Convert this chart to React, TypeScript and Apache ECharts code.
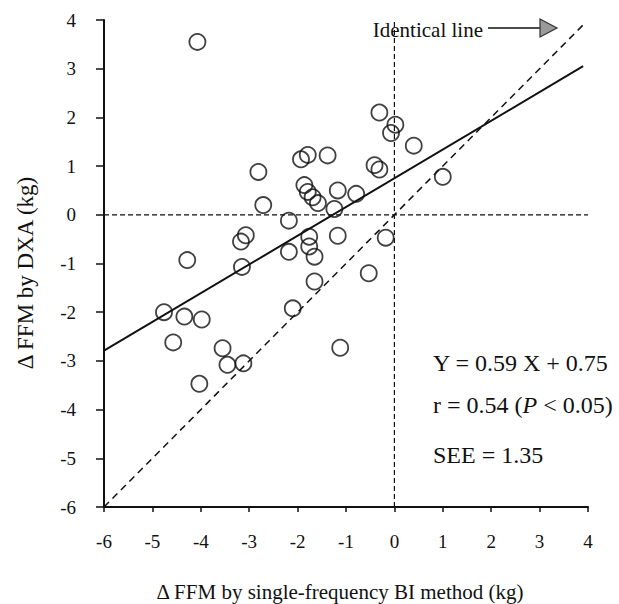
import React, { useEffect, useRef } from "react";
import * as echarts from "echarts";

// ΔFFM by single-frequency BI (x) vs ΔFFM by DXA (y), kg
const biChange: number[] = [
  -4.07, -0.31, 0.02, -0.07, 0.4, 1.0, -1.38, -0.41, -0.31, -1.17, -0.79,
  -1.24, -1.93, -1.79, -1.86, -1.79, -1.69, -1.58, -2.81, -2.71, -2.18,
  -3.07, -3.17, -2.18, -4.28, -3.15, -1.76, -1.76, -1.65, -1.17, -0.18,
  -0.53, -1.65, -2.1, -4.76, -4.34, -3.98, -4.57, -3.55, -3.45, -3.12,
  -4.03, -1.12,
];
const dxaChange: number[] = [
  3.55, 2.1, 1.85, 1.68, 1.42, 0.78, 1.22, 1.02, 0.93, 0.5, 0.43, 0.12,
  1.14, 1.23, 0.61, 0.47, 0.36, 0.24, 0.88, 0.2, -0.12, -0.42, -0.55,
  -0.76, -0.93, -1.07, -0.45, -0.65, -0.86, -0.43, -0.47, -1.2, -1.37,
  -1.92, -2.0, -2.09, -2.15, -2.62, -2.74, -3.08, -3.05, -3.47, -2.73,
];

// Regression Y = 0.59 X + 0.75
const slope = 0.59;
const intercept = 0.75;
const fitRange: number[] = [-6, 3.9];

// Identity line y = x
const identityRange: number[] = [-6, 3.9];

const xTicks: number[] = [-6, 4];
const yTicks: number[] = [-6, 4];

const FONT = "'Liberation Serif', 'Times New Roman', serif";
const INK = "#111";

export default function App() {
  const ref = useRef<HTMLDivElement>(null);

  useEffect(() => {
    if (!ref.current) return;
    const chart = echarts.init(ref.current, undefined, { renderer: "svg" });

    const points = biChange.map((x, i) => [x, dxaChange[i]]);
    const fitLine = fitRange.map((x) => [x, slope * x + intercept]);
    const identity = identityRange.map((x) => [x, x]);

    const dashed = (data: number[][], width: number, dash: number[]) => ({
      type: "line",
      data,
      symbol: "none",
      silent: true,
      lineStyle: { color: INK, width, type: dash },
      z: 2,
    });

    chart.setOption({
      animation: false,
      backgroundColor: "#fff",
      grid: { left: 104, right: 31, top: 20, bottom: 97 },
      xAxis: {
        type: "value",
        min: xTicks[0],
        max: xTicks[1],
        interval: 1,
        splitLine: { show: false },
        axisLine: { onZero: false, lineStyle: { color: INK, width: 2 } },
        axisTick: { show: true, inside: false, length: 5, lineStyle: { color: INK, width: 1.5 } },
        axisLabel: { color: INK, fontFamily: FONT, fontSize: 19, margin: 25 },
      },
      yAxis: {
        type: "value",
        min: yTicks[0],
        max: yTicks[1],
        interval: 1,
        splitLine: { show: false },
        axisLine: { onZero: false, lineStyle: { color: INK, width: 2 } },
        axisTick: { show: true, inside: false, length: 8, lineStyle: { color: INK, width: 1.5 } },
        axisLabel: { color: INK, fontFamily: FONT, fontSize: 19, margin: 28 },
      },
      series: [
        // zero reference lines
        dashed([[-6, 0], [4, 0]], 1.2, [5, 3]),
        dashed([[0, -6], [0, 4.05]], 1.2, [5, 3]),
        // identical line
        dashed(identity, 1.5, [7, 5]),
        {
          type: "line",
          data: fitLine,
          symbol: "none",
          silent: true,
          lineStyle: { color: INK, width: 2, type: "solid" },
          z: 3,
        },
        {
          type: "scatter",
          data: points,
          symbol: "circle",
          symbolSize: 16,
          itemStyle: { color: "rgba(0,0,0,0)", borderColor: INK, borderWidth: 1.8 },
          z: 4,
        },
      ],
      graphic: [
        {
          type: "text",
          x: 25,
          y: 273,
          rotation: Math.PI / 2,
          style: {
            text: "Δ FFM by DXA (kg)",
            fontFamily: FONT,
            fontSize: 23,
            fill: INK,
            align: "center",
            verticalAlign: "middle",
          },
        },
        {
          type: "text",
          x: 340,
          y: 592,
          style: {
            text: "Δ FFM by single-frequency BI method (kg)",
            fontFamily: FONT,
            fontSize: 21,
            fill: INK,
            align: "center",
            verticalAlign: "middle",
          },
        },
        {
          type: "text",
          x: 483,
          y: 30,
          style: {
            text: "Identical line",
            fontFamily: FONT,
            fontSize: 21,
            fill: INK,
            align: "right",
            verticalAlign: "middle",
          },
        },
        {
          type: "line",
          shape: { x1: 488, y1: 28, x2: 541, y2: 28 },
          style: { stroke: INK, lineWidth: 1.5 },
        },
        {
          type: "polygon",
          shape: { points: [[540, 19], [557, 28], [540, 37]] },
          style: { fill: "#9a9a9a", stroke: "#333", lineWidth: 1.2 },
        },
        {
          type: "text",
          x: 433,
          y: 363,
          style: {
            text: "Y = 0.59 X + 0.75",
            fontFamily: FONT,
            fontSize: 24,
            fill: INK,
            align: "left",
            verticalAlign: "middle",
          },
        },
        {
          type: "text",
          x: 433,
          y: 405,
          style: {
            text: "r = 0.54 ({i|P} < 0.05)",
            fontFamily: FONT,
            fontSize: 24,
            fill: INK,
            align: "left",
            verticalAlign: "middle",
            rich: {
              i: { fontFamily: FONT, fontSize: 24, fontStyle: "italic", fill: INK },
            },
          },
        },
        {
          type: "text",
          x: 433,
          y: 455,
          style: {
            text: "SEE = 1.35",
            fontFamily: FONT,
            fontSize: 24,
            fill: INK,
            align: "left",
            verticalAlign: "middle",
          },
        },
      ],
    });

    return () => chart.dispose();
  }, []);

  return (
    <div
      ref={ref}
      style={{ position: "fixed", left: 0, top: 0, width: 619, height: 604 }}
    />
  );
}
